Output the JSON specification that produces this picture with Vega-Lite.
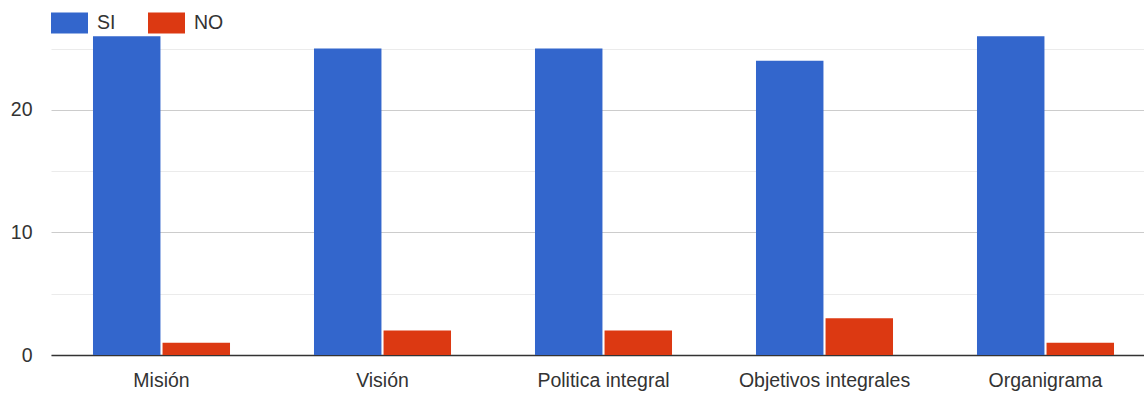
{
  "$schema": "https://vega.github.io/schema/vega-lite/v6.json",
  "width": 1093,
  "height": 331,
  "autosize": "none",
  "padding": {"left": 51, "top": 24, "right": 0, "bottom": 38},
  "config": {"view": {"stroke": null}, "font": "Liberation Sans"},
  "data": {
    "values": [
      {"categoria": "Misión", "respuesta": "SI", "valor": 26},
      {"categoria": "Misión", "respuesta": "NO", "valor": 1},
      {"categoria": "Visión", "respuesta": "SI", "valor": 25},
      {"categoria": "Visión", "respuesta": "NO", "valor": 2},
      {"categoria": "Politica integral", "respuesta": "SI", "valor": 25},
      {"categoria": "Politica integral", "respuesta": "NO", "valor": 2},
      {"categoria": "Objetivos integrales", "respuesta": "SI", "valor": 24},
      {"categoria": "Objetivos integrales", "respuesta": "NO", "valor": 3},
      {"categoria": "Organigrama", "respuesta": "SI", "valor": 26},
      {"categoria": "Organigrama", "respuesta": "NO", "valor": 1}
    ]
  },
  "mark": {"type": "bar"},
  "encoding": {
    "x": {
      "field": "categoria",
      "type": "nominal",
      "sort": ["Misión", "Visión", "Politica integral", "Objetivos integrales", "Organigrama"],
      "scale": {"range": [0, 1105], "paddingInner": 0.38, "paddingOuter": 0.19},
      "axis": {
        "title": null,
        "labelAngle": 0,
        "labelFontSize": 19.5,
        "labelColor": "#333333",
        "labelPadding": 16,
        "labelLimit": 0,
        "ticks": false,
        "tickSize": 0,
        "domainColor": "#333333",
        "domainWidth": 1.5
      }
    },
    "xOffset": {
      "field": "respuesta",
      "type": "nominal",
      "sort": ["SI", "NO"],
      "scale": {"paddingInner": 0.03}
    },
    "y": {
      "field": "valor",
      "type": "quantitative",
      "scale": {"domain": [0, 27], "nice": false},
      "axis": {
        "title": null,
        "values": [0, 5, 10, 15, 20, 25],
        "labelExpr": "datum.value % 10 === 0 ? datum.label : ''",
        "gridColor": {"condition": {"test": "datum.value % 10 === 0", "value": "#cccccc"}, "value": "#ebebeb"},
        "domain": false,
        "ticks": false,
        "tickSize": 0,
        "labelPadding": 19,
        "labelFontSize": 19.5,
        "labelColor": "#333333"
      }
    },
    "color": {
      "field": "respuesta",
      "type": "nominal",
      "scale": {"domain": ["SI", "NO"], "range": ["#3366cc", "#dc3912"]},
      "legend": {
        "title": null,
        "orient": "none",
        "legendX": 0,
        "legendY": -20,
        "direction": "horizontal",
        "symbolType": "M-1,-0.57L1,-0.57L1,0.57L-1,0.57Z",
        "symbolSize": 1369,
        "symbolStrokeWidth": 0,
        "symbolOpacity": 1,
        "labelFontSize": 19.5,
        "labelColor": "#333333",
        "labelOffset": 9,
        "columnPadding": 32
      }
    }
  }
}
